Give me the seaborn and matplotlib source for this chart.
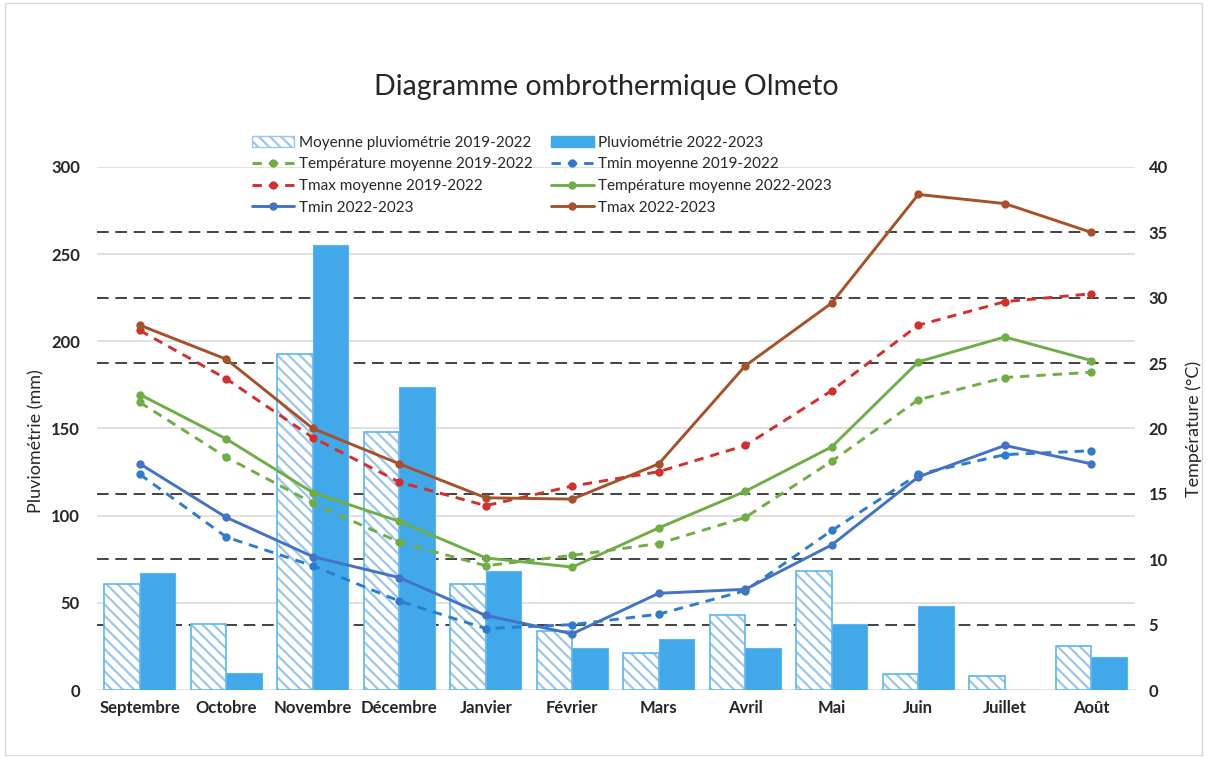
import numpy as np
import pandas as pd
import matplotlib
matplotlib.use("Agg")
import matplotlib.pyplot as plt
import seaborn as sns
from matplotlib.patches import Patch, Rectangle

# --- Data ---
mois = ['Septembre', 'Octobre', 'Novembre', 'Décembre', 'Janvier', 'Février',
        'Mars', 'Avril', 'Mai', 'Juin', 'Juillet', 'Août']

# precipitation (mm)
pluvio_moy_1922 = [61, 38, 193, 148, 61, 34, 21, 43, 68, 9, 8, 25]
pluvio_2223 = [67, 10, 255, 174, 68, 24, 29, 24, 38, 48, 0, 19]

# temperatures (°C)
tmoy_1922 = [22.0, 17.8, 14.3, 11.3, 9.5, 10.3, 11.2, 13.2, 17.5, 22.2, 23.9, 24.3]
tmin_1922 = [16.5, 11.7, 9.5, 6.8, 4.7, 5.0, 5.8, 7.6, 12.2, 16.5, 18.0, 18.3]
tmax_1922 = [27.5, 23.8, 19.3, 15.9, 14.1, 15.6, 16.7, 18.7, 22.9, 27.9, 29.7, 30.3]
tmoy_2223 = [22.6, 19.2, 15.1, 12.9, 10.1, 9.4, 12.4, 15.2, 18.6, 25.1, 27.0, 25.2]
tmin_2223 = [17.3, 13.2, 10.2, 8.6, 5.7, 4.3, 7.4, 7.7, 11.1, 16.3, 18.7, 17.3]
tmax_2223 = [27.9, 25.3, 20.0, 17.3, 14.7, 14.6, 17.3, 24.8, 29.6, 37.9, 37.2, 35.0]

lab_moy = 'Moyenne pluviométrie 2019-2022'
lab_2223 = 'Pluviométrie 2022-2023'
temp_refs = [5, 10, 15, 25, 30, 35]  # dashed reference lines (°C)

sns.set_theme(style='white')
plt.rcParams['font.family'] = ['Lato', 'DejaVu Sans']
plt.rcParams['hatch.linewidth'] = 1.6

bar_blue = '#41A8EA'
hatch_blue = '#9CC6EA'
edge_blue = '#5CB6F0'

fig = plt.figure(figsize=(12.07, 7.58), dpi=100)
ax = fig.add_axes([0.080, 0.0897, 0.860, 0.690])
ax2 = ax.twinx()

# --- Bars ---
df = pd.DataFrame({
    'Mois': mois * 2,
    'Pluie': pluvio_moy_1922 + pluvio_2223,
    'Série': [lab_moy] * 12 + [lab_2223] * 12,
})
sns.barplot(data=df, x='Mois', y='Pluie', hue='Série', order=mois,
            hue_order=[lab_moy, lab_2223], palette=['white', bar_blue],
            saturation=1, width=0.82, ax=ax, legend=False, zorder=3)

for p in ax.containers[0]:
    p.set_hatch('\\\\\\')
    p.set_edgecolor(hatch_blue)
    p.set_linewidth(0)
    ax.add_patch(Rectangle(p.get_xy(), p.get_width(), p.get_height(),
                           fill=False, edgecolor=edge_blue, lw=1.2, zorder=4))
for p in ax.containers[1]:
    p.set_edgecolor(edge_blue)
    p.set_linewidth(0.8)

ax.set_ylim(0, 300)
ax.set_xlim(-0.5, len(mois) - 0.5)
ax.set_yticks(range(0, 301, 50))
ax.yaxis.grid(True, color='#D9D9D9', lw=1.1)
ax.set_axisbelow(True)

# dashed temperature references, drawn under the bars
ratio = 300 / 40
for t in temp_refs:
    ax.axhline(t * ratio, color='#222222', dashes=(7, 4), lw=1.2, zorder=1.5)

# --- Temperature lines ---
series = [
    (tmoy_1922, 'Température moyenne 2019-2022', '#70AD47', '--'),
    (tmin_1922, 'Tmin moyenne 2019-2022', '#2E7BCF', '--'),
    (tmax_1922, 'Tmax moyenne 2019-2022', '#D42F2F', '--'),
    (tmoy_2223, 'Température moyenne 2022-2023', '#70AD47', '-'),
    (tmin_2223, 'Tmin 2022-2023', '#4472C4', '-'),
    (tmax_2223, 'Tmax 2022-2023', '#A5522A', '-'),
]
x = np.arange(len(mois))
for vals, lab, col, ls in series:
    kw = dict(dashes=(3.2, 2.4)) if ls == '--' else {}
    sns.lineplot(x=x, y=vals, ax=ax2, color=col, marker='o', markersize=6,
                 markeredgewidth=0, linewidth=2.1, legend=False, **kw)
ax2.set_ylim(0, 40)
ax2.set_yticks(range(0, 41, 5))
ax2.grid(False)

for a in (ax, ax2):
    for s in a.spines.values():
        s.set_visible(False)
ax.tick_params(axis='both', length=0, labelsize=12)
ax.tick_params(axis='y', pad=12)
ax.tick_params(axis='x', pad=7)
ax2.tick_params(axis='y', length=0, labelsize=12, pad=10)
for lbl in ax.get_xticklabels() + ax.get_yticklabels() + ax2.get_yticklabels():
    lbl.set_fontweight('bold')

ax.set_xlabel('')
ax.set_ylabel('Pluviométrie (mm)', fontsize=13)
ax.yaxis.set_label_coords(-0.050, 0.476)
ax2.set_ylabel('Température (°C)', fontsize=13, rotation=90)
ax2.yaxis.set_label_coords(1.049, 0.5)

fig.text(0.502, 0.885, 'Diagramme ombrothermique Olmeto', ha='center', va='center',
         fontsize=20.5)

# --- Legend (2 columns, filled column by column) ---
lines = ax2.get_lines()
h_moy = Patch(facecolor='white', edgecolor=hatch_blue, hatch='\\\\\\', lw=1)
h_2223 = Patch(facecolor=bar_blue, edgecolor=bar_blue)
handles = [h_moy, lines[0], lines[2], lines[4], h_2223, lines[1], lines[3], lines[5]]
labels = [lab_moy, series[0][1], series[2][1], series[4][1],
          lab_2223, series[1][1], series[3][1], series[5][1]]
fig.legend(handles, labels, loc='upper left', bbox_to_anchor=(244 / 1207, 1 - 128 / 758),
           ncol=2, frameon=False, fontsize=11, handlelength=2.8, handletextpad=0.3,
           columnspacing=1.2, labelspacing=0.5, borderpad=0)

fig.add_artist(Rectangle((0.004, 0.004), 0.992, 0.992, transform=fig.transFigure,
                         fill=False, edgecolor='#D9D9D9', lw=1))

fig.savefig('out.png', dpi=100, facecolor='white')
